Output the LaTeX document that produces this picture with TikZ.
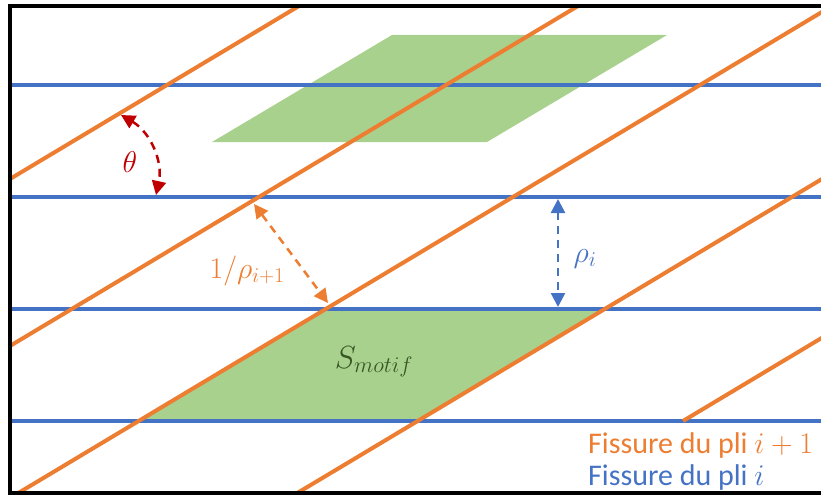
\RequirePackage{fix-cm}
\documentclass[tikz,border=0pt]{standalone}
\usepackage{fontspec}
\setmainfont{Carlito}
\usepackage{tikz}
\usetikzlibrary{arrows.meta}
\definecolor{pliorange}{HTML}{ED7D31}
\definecolor{pliblue}{HTML}{4472C4}
\definecolor{motifgreen}{HTML}{A9D18E}
\definecolor{motiftext}{HTML}{375623}
\definecolor{angred}{HTML}{C00000}

\begin{document}
\begin{tikzpicture}[x=1pt,y=-1pt,
    fissblue/.style={pliblue,line width=4pt},
    fissorange/.style={pliorange,line width=4pt},
    cote/.style={line width=2.5pt,dash pattern=on 8pt off 6pt,
      {Triangle[length=14pt,width=14pt]}-{Triangle[length=14pt,width=14pt]}},
    lbl/.style={font=\fontsize{30}{36}\selectfont,anchor=base},
    legende/.style={lbl,anchor=base west,inner sep=0pt,text height=19pt,text depth=5pt}]
  \useasboundingbox (0,0) rectangle (821,495);
  % motifs
  \fill[motifgreen] (392,35) -- (667,35) -- (487,142) -- (212,142) -- cycle;
  \fill[motifgreen] (326,309) -- (605,309) -- (418,421) -- (139,421) -- cycle;
  % fissures du pli i
  \foreach \y in {85,197,309,421}
    \draw[fissblue] (12,\y) -- (821,\y);
  % fissures du pli i+1
  \begin{scope}
    \clip (12,8) rectangle (821,491);
    \foreach \x in {-207,72,326,605}
      \draw[fissorange] (\x+516,0) -- (\x-311,495);
    \draw[fissorange] (683,421) -- (1386,0);
  \end{scope}
  % cadre
  \draw[line width=4pt] (840,6) -- (10,6) -- (10,493) -- (840,493);
  % cotes
  \coordinate (thA) at (121,115);
  \coordinate (thB) at (156,195);
  \draw[cote,angred] (thA) to[bend left=36] (thB);
  \node[lbl,text=angred] (theta) at (130,172) {$\theta$};
  \coordinate (invA) at (254,204);
  \coordinate (invB) at (328,303);
  \draw[cote,pliorange] (invA) -- (invB);
  \node[lbl,text=pliorange] (inv) at (247,278) {$1/\rho_{i+1}$};
  \coordinate (rhoA) at (558,199);
  \coordinate (rhoB) at (558,307);
  \draw[cote,pliblue] (rhoA) -- (rhoB);
  \node[lbl,text=pliblue] (rho) at (585,262) {$\rho_i$};
  \node[lbl,font=\fontsize{32}{38}\selectfont,text=motiftext] (smotif) at (374,368) {$S_{motif}$};
  % legende
  \node[legende,text=pliorange] (leg1) at (588,453) {Fissure du pli $i+1$};
  \node[legende,text=pliblue] (leg2) at (588,485) {Fissure du pli $i$};
\end{tikzpicture}
\end{document}
